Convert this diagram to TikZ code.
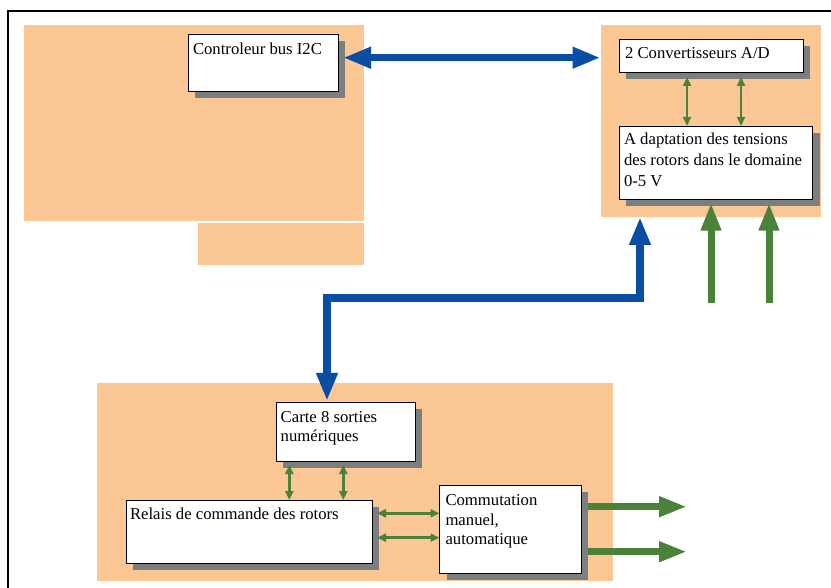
\documentclass[tikz,border=0pt]{standalone}
\usepackage{fontspec}
\setmainfont{Liberation Serif}
\usetikzlibrary{arrows.meta,calc,shadows}
\definecolor{orng}{HTML}{FBC895}
\definecolor{grn}{HTML}{4B8139}
\definecolor{blu}{HTML}{0A4EA3}
\definecolor{shd}{HTML}{7B7F80}
\begin{document}
\begin{tikzpicture}[x=1pt,y=-1pt,
 region/.style={fill=orng, draw=none, anchor=north west, inner sep=0pt, outer sep=0pt},
 box/.style={draw=black, line width=0.9pt, fill=white, anchor=north west, inner sep=0pt, outer sep=0pt,
   general shadow={fill=shd, draw=none, shadow xshift=7pt, shadow yshift=-7pt}},
 txt/.style={anchor=base west, inner sep=0pt, outer sep=0pt, align=left},
 fnt/.style={font=\fontsize{16.7}{#1}\selectfont},
 bluearr/.style={draw=blu, line width=7.5pt, {Triangle[length=28pt,width=20pt]}-{Triangle[length=28pt,width=20pt]}},
 gbig/.style={draw=grn, line width=7pt, -{Triangle[length=28pt,width=19pt]}},
 gsmall/.style={draw=grn, line width=2.5pt, {Triangle[length=9pt,width=8pt]}-{Triangle[length=9pt,width=8pt]}},
]
\fill[white] (0,0) rectangle (831,588);
\useasboundingbox (0,0) rectangle (831,588);
% frame
\draw[line width=2.5pt] (8,588) -- (8,11) -- (832,11);
% regions
\node[region, minimum width=340pt, minimum height=196pt] (rTL) at (24,25) {};
\node[region, minimum width=166pt, minimum height=42pt] (rTL2) at (198,223) {};
\node[region, minimum width=220.5pt, minimum height=192pt] (rR) at (600.5,25) {};
\node[region, minimum width=516pt, minimum height=198pt] (rB) at (97,383) {};
% boxes
\node[box, minimum width=150pt, minimum height=57pt] (ctrl) at (188,34) {};
\node[box, minimum width=184pt, minimum height=33pt] (adc) at (619,39) {};
\node[box, minimum width=193.5pt, minimum height=73pt] (adapt) at (619,126) {};
\node[box, minimum width=139pt, minimum height=59pt] (carte) at (276,402) {};
\node[box, minimum width=246pt, minimum height=63pt] (relais) at (126,500) {};
\node[box, minimum width=141.5pt, minimum height=88pt] (comm) at (439.5,485) {};
% texts (anchor = baseline of the last line)
\node[txt, fnt=20] (tctrl) at ($(ctrl.north west)+(5,20.3)$) {Controleur bus I2C};
\node[txt, fnt=20] (tadc) at ($(adc.north west)+(6,20)$) {2 Convertisseurs A/D};
\node[txt, fnt=20.8] (tadapt) at ($(adapt.north west)+(5,60.6)$) {A daptation des tensions\\des rotors dans le domaine\\0-5 V};
\node[txt, fnt=18.7] (tcarte) at ($(carte.north west)+(4.7,39.7)$) {Carte 8 sorties\\numériques};
\node[txt, fnt=20] (trelais) at ($(relais.north west)+(4,19.3)$) {Relais de commande des rotors};
\node[txt, fnt=19.5] (tcomm) at ($(comm.north west)+(6,59.7)$) {Commutation\\manuel,\\automatique};
% blue bus arrows
\coordinate (b1) at ($(ctrl.north east)+(5,23.7)$);
\draw[bluearr] (b1) -- (b1 -| rR.west);
\coordinate (bj1) at (640,298);
\coordinate (bj2) at (327,298);
\draw[bluearr] (bj1 |- rR.south) -- (bj1) -- (bj2) -- ([yshift=1pt]bj2 |- carte.north);
% green small arrows
\coordinate (s1) at ($(adc.south west)+(68,5)$);
\coordinate (s2) at ($(adc.south west)+(122,5)$);
\draw[gsmall] (s1) -- (s1 |- adapt.north);
\draw[gsmall] (s2) -- (s2 |- adapt.north);
\coordinate (s3) at ($(carte.south west)+(13.3,4)$);
\coordinate (s4) at ($(carte.south west)+(67.3,4)$);
\draw[gsmall] (s3) -- (s3 |- relais.north);
\draw[gsmall] (s4) -- (s4 |- relais.north);
\coordinate (s5) at ($(relais.north east)+(5,13.3)$);
\coordinate (s6) at ($(relais.north east)+(5,37.7)$);
\draw[gsmall] (s5) -- (s5 -| comm.west);
\draw[gsmall] (s6) -- (s6 -| comm.west);
% green big arrows
\coordinate (in1) at (711,303);
\coordinate (in2) at (769,303);
\draw[gbig] (in1) -- ($(in1 |- adapt.south)+(0,3.7)$);
\draw[gbig] (in2) -- ($(in2 |- adapt.south)+(0,3.7)$);
\coordinate (out1) at (687,506.7);
\coordinate (out2) at (687,551.7);
\draw[gbig] ($(out1 -| comm.east)+(7,0)$) -- (out1);
\draw[gbig] ($(out2 -| comm.east)+(7,0)$) -- (out2);
\end{tikzpicture}
\end{document}
